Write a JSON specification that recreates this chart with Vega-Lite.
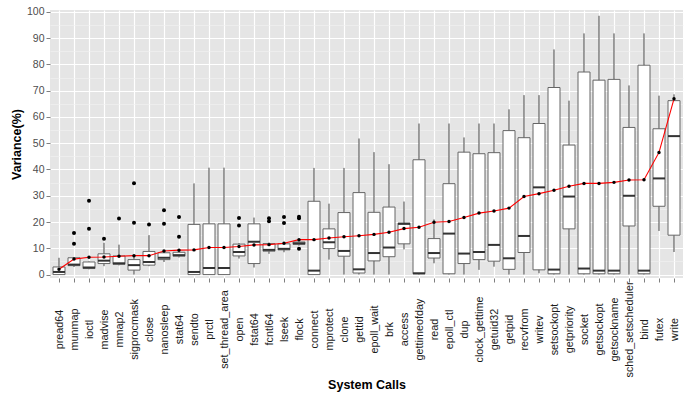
{
  "$schema": "https://vega.github.io/schema/vega-lite/v6.json",
  "width": 633,
  "height": 268,
  "autosize": {"type": "none"},
  "padding": {"left": 50, "top": 10, "right": 6, "bottom": 117},
  "config": {
    "font": "Liberation Sans",
    "view": {"fill": "#E5E5E5", "stroke": null},
    "axis": {"domain": false}
  },
  "datasets": {
    "boxes": [
      {"call": "pread64", "lo": 0, "q1": 0, "med": 1.0, "q3": 2.9, "hi": 6.4, "mean": 2.0},
      {"call": "munmap", "lo": 2.9, "q1": 3.4, "med": 3.8, "q3": 6.4, "hi": 6.6, "mean": 5.9},
      {"call": "ioctl", "lo": 2.0, "q1": 2.3, "med": 2.7, "q3": 4.8, "hi": 5.0, "mean": 6.6},
      {"call": "madvise", "lo": 3.2, "q1": 4.2, "med": 5.3, "q3": 7.9, "hi": 12.1, "mean": 6.7},
      {"call": "mmap2", "lo": 3.5, "q1": 3.9, "med": 4.3, "q3": 7.1, "hi": 11.4, "mean": 7.0},
      {"call": "sigprocmask", "lo": 0, "q1": 1.7, "med": 3.6, "q3": 5.7, "hi": 7.4, "mean": 7.2},
      {"call": "close", "lo": 3.2, "q1": 3.6, "med": 4.8, "q3": 8.8, "hi": 15.0, "mean": 7.2},
      {"call": "nanosleep", "lo": 4.8, "q1": 5.7, "med": 6.4, "q3": 8.3, "hi": 8.6, "mean": 9.0},
      {"call": "stat64", "lo": 6.5, "q1": 7.0, "med": 7.4, "q3": 8.5, "hi": 8.8, "mean": 9.3},
      {"call": "sendto", "lo": 0, "q1": 0, "med": 1.0, "q3": 19.1, "hi": 34.7, "mean": 9.4},
      {"call": "prctl", "lo": 0, "q1": 0, "med": 2.5, "q3": 19.3, "hi": 40.7, "mean": 10.3},
      {"call": "set_thread_area", "lo": 0, "q1": 0, "med": 2.5, "q3": 19.3, "hi": 40.7, "mean": 10.3},
      {"call": "open", "lo": 6.1, "q1": 7.1, "med": 8.6, "q3": 11.6, "hi": 12.0, "mean": 10.7},
      {"call": "fstat64", "lo": 2.7, "q1": 4.2, "med": 12.5, "q3": 19.3, "hi": 21.7, "mean": 11.3},
      {"call": "fcntl64", "lo": 7.9, "q1": 8.9, "med": 9.4, "q3": 11.8, "hi": 12.2, "mean": 11.4},
      {"call": "lseek", "lo": 8.5, "q1": 9.4, "med": 9.8, "q3": 11.7, "hi": 12.0, "mean": 11.9},
      {"call": "flock", "lo": 11.0, "q1": 11.5, "med": 11.9, "q3": 12.4, "hi": 12.8, "mean": 13.3},
      {"call": "connect", "lo": 0, "q1": 0, "med": 1.5, "q3": 27.9, "hi": 40.6, "mean": 13.3},
      {"call": "mprotect", "lo": 5.7, "q1": 9.9, "med": 12.3, "q3": 17.4, "hi": 27.0, "mean": 13.9},
      {"call": "clone", "lo": 0, "q1": 7.0, "med": 9.0, "q3": 23.6, "hi": 40.6, "mean": 14.4},
      {"call": "gettid", "lo": 0, "q1": 0.6, "med": 2.0, "q3": 31.2, "hi": 51.8, "mean": 14.8},
      {"call": "epoll_wait", "lo": 0, "q1": 5.2, "med": 8.2, "q3": 23.7, "hi": 46.6, "mean": 15.3},
      {"call": "brk", "lo": 0, "q1": 6.8, "med": 10.3, "q3": 25.7, "hi": 42.0, "mean": 16.1},
      {"call": "access", "lo": 9.6, "q1": 11.7, "med": 19.3, "q3": 19.6, "hi": 27.8, "mean": 17.5},
      {"call": "gettimeofday", "lo": 0, "q1": 0.3, "med": 0.5, "q3": 43.7, "hi": 57.5, "mean": 18.0},
      {"call": "read", "lo": 4.3, "q1": 6.3, "med": 8.2, "q3": 13.7, "hi": 21.0, "mean": 19.9},
      {"call": "epoll_ctl", "lo": 0, "q1": 0.3, "med": 15.6, "q3": 34.6, "hi": 57.5, "mean": 20.2},
      {"call": "dup", "lo": 0, "q1": 4.2, "med": 8.0, "q3": 46.6, "hi": 52.2, "mean": 21.7},
      {"call": "clock_gettime", "lo": 1.8, "q1": 5.7, "med": 8.6, "q3": 46.0, "hi": 57.5, "mean": 23.4},
      {"call": "getuid32", "lo": 3.0, "q1": 5.1, "med": 11.3, "q3": 46.4, "hi": 57.5, "mean": 24.2},
      {"call": "getpid", "lo": 0, "q1": 2.0, "med": 6.2, "q3": 54.8, "hi": 62.9, "mean": 25.3},
      {"call": "recvfrom", "lo": 0, "q1": 8.4, "med": 14.7, "q3": 52.1, "hi": 68.3, "mean": 29.7},
      {"call": "writev", "lo": 0.5, "q1": 1.8, "med": 33.2, "q3": 57.5, "hi": 68.3, "mean": 30.8},
      {"call": "setsockopt", "lo": 0, "q1": 0.3, "med": 1.9, "q3": 71.2, "hi": 85.7, "mean": 32.1},
      {"call": "getpriority", "lo": 0, "q1": 17.4, "med": 29.7, "q3": 49.3, "hi": 66.2, "mean": 33.6},
      {"call": "socket", "lo": 0, "q1": 0.3, "med": 2.3, "q3": 77.1, "hi": 91.8, "mean": 34.7},
      {"call": "getsockopt", "lo": 0, "q1": 0.3, "med": 1.5, "q3": 74.0, "hi": 98.5, "mean": 34.7},
      {"call": "getsockname", "lo": 0, "q1": 0.3, "med": 1.5, "q3": 74.3, "hi": 91.8, "mean": 35.1},
      {"call": "sched_setscheduler", "lo": 0, "q1": 18.5, "med": 30.0, "q3": 56.0, "hi": 72.0, "mean": 36.0},
      {"call": "bind", "lo": 0, "q1": 0.3, "med": 1.5, "q3": 79.7, "hi": 91.8, "mean": 36.1},
      {"call": "futex", "lo": 16.6, "q1": 26.0, "med": 36.6, "q3": 55.5, "hi": 68.1, "mean": 46.5},
      {"call": "write", "lo": 8.6, "q1": 15.0, "med": 52.7, "q3": 66.2, "hi": 68.6, "mean": 66.9}
    ],
    "outliers": [
      {"call": "munmap", "v": 15.8}, {"call": "munmap", "v": 11.7},
      {"call": "ioctl", "v": 28.1}, {"call": "ioctl", "v": 17.4},
      {"call": "madvise", "v": 13.6},
      {"call": "mmap2", "v": 21.3},
      {"call": "sigprocmask", "v": 34.8}, {"call": "sigprocmask", "v": 19.7},
      {"call": "close", "v": 19.1},
      {"call": "nanosleep", "v": 24.5}, {"call": "nanosleep", "v": 19.3},
      {"call": "stat64", "v": 21.9}, {"call": "stat64", "v": 14.4},
      {"call": "open", "v": 21.5}, {"call": "open", "v": 18.7},
      {"call": "fcntl64", "v": 21.4}, {"call": "fcntl64", "v": 20.3},
      {"call": "lseek", "v": 21.9}, {"call": "lseek", "v": 19.6},
      {"call": "flock", "v": 22.0}, {"call": "flock", "v": 21.4}, {"call": "flock", "v": 9.8}
    ]
  },
  "encoding": {
    "x": {
      "field": "call",
      "type": "nominal",
      "scale": {
        "type": "point",
        "padding": 0.6,
        "domain": ["pread64", "munmap", "ioctl", "madvise", "mmap2", "sigprocmask", "close", "nanosleep", "stat64", "sendto", "prctl", "set_thread_area", "open", "fstat64", "fcntl64", "lseek", "flock", "connect", "mprotect", "clone", "gettid", "epoll_wait", "brk", "access", "gettimeofday", "read", "epoll_ctl", "dup", "clock_gettime", "getuid32", "getpid", "recvfrom", "writev", "setsockopt", "getpriority", "socket", "getsockopt", "getsockname", "sched_setscheduler", "bind", "futex", "write"]
      },
      "axis": {
        "title": "System Calls",
        "titleFontSize": 12.5,
        "titleFontWeight": "bold",
        "titleColor": "#000000",
        "titlePadding": 1,
        "labelAngle": -90,
        "labelAlign": "center",
        "labelBaseline": "middle",
        "labelFontSize": 10.8,
        "labelColor": "#1a1a1a",
        "labelPadding": 47,
        "labelOverlap": false,
        "labelBound": false,
        "tickColor": "#7f7f7f",
        "tickSize": 4,
        "grid": true,
        "gridColor": "#FFFFFF",
        "gridWidth": 1.2
      }
    }
  },
  "resolve": {"scale": {"y": "independent"}},
  "layer": [
    {
      "data": {"name": "boxes"},
      "mark": {"type": "point", "opacity": 0},
      "encoding": {
        "y": {
          "field": "mean",
          "type": "quantitative",
          "scale": {"domain": [-1.3, 100.7], "nice": false, "zero": false},
          "axis": {
            "orient": "right",
            "title": null,
            "tickCount": 20,
            "labels": false,
            "ticks": false,
            "grid": true,
            "gridColor": "#F2F2F2",
            "gridWidth": 0.6
          }
        }
      }
    },
    {
      "layer": [
        {
          "data": {"name": "boxes"},
          "mark": {"type": "rule", "color": "#444444", "strokeWidth": 1},
          "encoding": {
            "y": {
              "field": "lo",
              "type": "quantitative",
              "scale": {"domain": [-1.3, 100.7], "nice": false, "zero": false},
              "axis": {
                "orient": "left",
                "title": "Variance(%)",
                "titleFontSize": 12.5,
                "titleFontWeight": "bold",
                "titleColor": "#000000",
                "titlePadding": 3,
                "tickCount": 11,
                "labelOverlap": false,
                "labelFontSize": 10.5,
                "labelColor": "#4d4d4d",
                "labelPadding": 2,
                "tickColor": "#7f7f7f",
                "tickSize": 4,
                "grid": true,
                "gridColor": "#FFFFFF",
                "gridWidth": 1.2
              }
            },
            "y2": {"field": "hi"}
          }
        },
        {
          "data": {"name": "boxes"},
          "mark": {"type": "bar", "size": 12, "fill": "#FFFFFF", "stroke": "#666666", "strokeWidth": 1},
          "encoding": {
            "y": {"field": "q1", "type": "quantitative"},
            "y2": {"field": "q3"}
          }
        },
        {
          "data": {"name": "boxes"},
          "mark": {"type": "tick", "size": 12, "thickness": 2, "color": "#333333", "opacity": 1},
          "encoding": {
            "y": {"field": "med", "type": "quantitative"}
          }
        },
        {
          "data": {"name": "outliers"},
          "mark": {"type": "point", "filled": true, "color": "#000000", "size": 16, "opacity": 1},
          "encoding": {
            "y": {"field": "v", "type": "quantitative"}
          }
        },
        {
          "data": {"name": "boxes"},
          "mark": {"type": "line", "color": "#FF0000", "strokeWidth": 1.1},
          "encoding": {
            "y": {"field": "mean", "type": "quantitative"}
          }
        },
        {
          "data": {"name": "boxes"},
          "mark": {"type": "point", "filled": true, "color": "#000000", "size": 12, "opacity": 1},
          "encoding": {
            "y": {"field": "mean", "type": "quantitative"}
          }
        }
      ]
    }
  ]
}
